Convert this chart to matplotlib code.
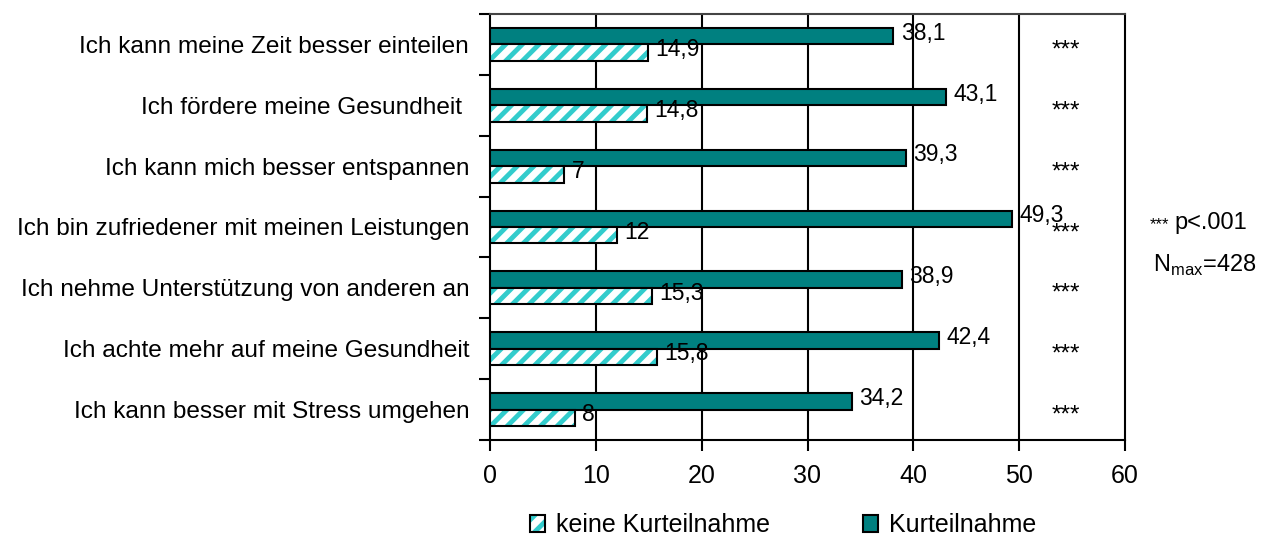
import numpy as np
import matplotlib
matplotlib.use('Agg')
from matplotlib import pyplot as plt
from matplotlib.patches import Patch

# data, top to bottom
categories = [
	'Ich kann meine Zeit besser einteilen',
	'Ich fördere meine Gesundheit ',
	'Ich kann mich besser entspannen',
	'Ich bin zufriedener mit meinen Leistungen',
	'Ich nehme Unterstützung von anderen an',
	'Ich achte mehr auf meine Gesundheit',
	'Ich kann besser mit Stress umgehen',
]
kurteilnahme = [38.1, 43.1, 39.3, 49.3, 38.9, 42.4, 34.2]
keine_kurteilnahme = [14.9, 14.8, 7, 12, 15.3, 15.8, 8]
signif = ['***'] * 7
xticks = [0, 10, 20, 30, 40, 50, 60]

teal = '#008080'
turq = '#33CCCC'

plt.rcParams['font.family'] = ['Liberation Sans', 'DejaVu Sans']
plt.rcParams['mathtext.fontset'] = 'custom'
plt.rcParams['mathtext.rm'] = 'Liberation Sans'
plt.rcParams['hatch.linewidth'] = 3.5

fig = plt.figure(figsize=(12.7, 5.37), dpi=100)
ax = fig.add_axes([490/1270., 1-440/537., 635/1270., 426/537.])

n = len(categories)
pos = np.arange(n)[::-1]
h = 0.27

# Kurteilnahme (solid, upper bar)
ax.barh(pos + h/2, kurteilnahme, height=h, color=teal, edgecolor='black', linewidth=1.5, zorder=3)
# keine Kurteilnahme (hatched, lower bar)
ax.barh(pos - h/2, keine_kurteilnahme, height=h, color='white', edgecolor=turq, hatch='//', linewidth=0, zorder=3)
ax.barh(pos - h/2, keine_kurteilnahme, height=h, fill=False, edgecolor='black', linewidth=1.5, zorder=4)

def fmt(v):
	return ('%g' % v).replace('.', ',')

for p, v in zip(pos, kurteilnahme):
	ax.text(v + 0.7, p + h/2 + 0.05, fmt(v), ha='left', va='center', fontsize=16.5, zorder=5)
for p, v in zip(pos, keine_kurteilnahme):
	ax.text(v + 0.7, p - h/2 + 0.05, fmt(v), ha='left', va='center', fontsize=16.5, zorder=5)
for p, s in zip(pos, signif):
	ax.text(54.4, p - 0.2, s, ha='center', va='baseline', fontsize=17.5, zorder=5)

ax.set_xlim(0, 60)
ax.set_ylim(-0.5, n - 0.5)
ax.set_xticks(xticks)
ax.set_xticklabels([str(t) for t in xticks], fontsize=18)
ax.set_yticks(pos)
ax.set_yticklabels(categories, fontsize=17.6)
ax.set_yticks(np.arange(n + 1) - 0.5, minor=True)
ax.tick_params(axis='y', which='major', length=0, pad=15)
ax.tick_params(axis='y', which='minor', length=8, width=1.5, direction='out')
ax.tick_params(axis='x', length=8, width=1.5, direction='out', pad=9)

for x in xticks[1:-1]:
	ax.axvline(x, color='black', linewidth=1.5, zorder=1)
for sp in ax.spines.values():
	sp.set_linewidth(1.5)
ax.spines['top'].set_color('#444444')

fig.text(1150/1270., 1-229/537., '***', fontsize=12, ha='left', va='baseline')
fig.text(1174/1270., 1-229/537., 'p<.001', fontsize=17, ha='left', va='baseline')
fig.text(1153/1270., 1-272/537., r'N$_{\rm max}$=428', fontsize=17, ha='left', va='baseline')

hatch_patch = Patch(facecolor='white', edgecolor=turq, hatch='//', linewidth=0)
hatch_edge = Patch(fill=False, edgecolor='black', linewidth=1.5)
solid_patch = Patch(facecolor=teal, edgecolor='black', linewidth=1.5)
fig.legend([(hatch_patch, hatch_edge), solid_patch],
	['keine Kurteilnahme', 'Kurteilnahme'],
	loc='center', bbox_to_anchor=(783/1270., 1-525/537.), ncol=2, frameon=False,
	fontsize=18, handlelength=0.6, handleheight=0.7, handletextpad=0.45, columnspacing=3.7)

fig.savefig('out.png', dpi=100)
